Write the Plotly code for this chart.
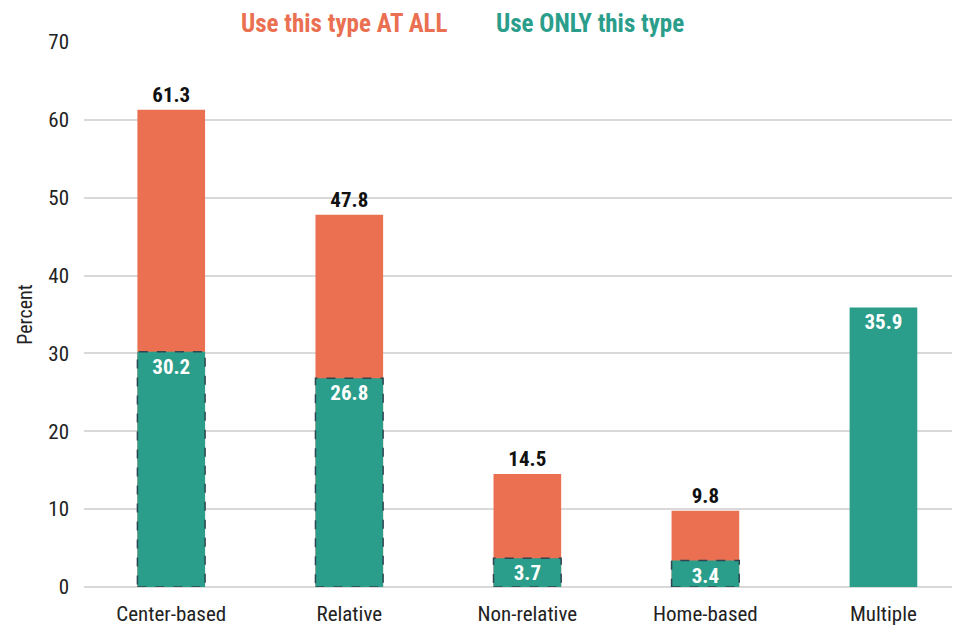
import plotly.graph_objects as go

categories = ["Center-based", "Relative", "Non-relative", "Home-based", "Multiple"]
use_at_all = [61.3, 47.8, 14.5, 9.8, None]
use_only = [30.2, 26.8, 3.7, 3.4, 35.9]
dashed_border = [True, True, True, True, False]
y_ticks = [0, 10, 20, 30, 40, 50, 60, 70]

ORANGE = "#EA7051"
TEAL = "#2A9D8B"
FONT = "Roboto Condensed, Liberation Sans Narrow, DejaVu Sans Condensed, Arial Narrow, sans-serif"
BAR_W = 0.38

fig = go.Figure()
fig.add_trace(go.Bar(
    x=categories, y=use_at_all, width=BAR_W, marker=dict(color=ORANGE, line=dict(width=0)),
    text=[f"{v:.1f}" if v is not None else "" for v in use_at_all],
    textposition="outside", cliponaxis=False,
    textfont=dict(family=FONT, size=21, color="#111111", weight="bold"),
    name="Use this type AT ALL", showlegend=False))
fig.add_trace(go.Bar(
    x=categories, y=use_only, width=BAR_W, marker=dict(color=TEAL, line=dict(width=0)),
    text=[f"{v:.1f}" for v in use_only],
    textposition="inside", insidetextanchor="end",
    textfont=dict(family=FONT, size=21, color="white", weight="bold"),
    name="Use ONLY this type", showlegend=False))

# dashed outlines on the "only" bars
for i, (v, d) in enumerate(zip(use_only, dashed_border)):
    if d:
        fig.add_shape(type="rect", xref="x", yref="y",
                      x0=i - BAR_W / 2, x1=i + BAR_W / 2, y0=0, y1=v,
                      line=dict(color="#2E4651", width=1.5, dash="dash"),
                      fillcolor="rgba(0,0,0,0)", layer="above")

fig.add_annotation(text="Use this type AT ALL", xref="paper", yref="paper", x=0.297, y=1.0,
                   yanchor="bottom", xanchor="center", showarrow=False, yshift=2,
                   font=dict(family=FONT, size=25, color=ORANGE, weight="bold"))
fig.add_annotation(text="Use ONLY this type", xref="paper", yref="paper", x=0.578, y=1.0,
                   yanchor="bottom", xanchor="center", showarrow=False, yshift=2,
                   font=dict(family=FONT, size=25, color=TEAL, weight="bold"))

fig.update_layout(
    width=952, height=619, barmode="overlay",
    margin=dict(l=76, r=0, t=34, b=40, autoexpand=False),
    uniformtext=dict(mode="show", minsize=21),
    plot_bgcolor="white", paper_bgcolor="white",
    font=dict(family=FONT, size=20, color="#222222"),
    xaxis=dict(range=[-0.49, 4.43], showgrid=False, showline=False, ticks="",
               tickfont=dict(size=21, family=FONT), ticklabelstandoff=12),
    yaxis=dict(range=[0, 70], tickvals=y_ticks, showgrid=True, gridcolor="#D9D9D9", gridwidth=1.5,
               zeroline=True, zerolinecolor="#D9D9D9", zerolinewidth=1.5,
               ticklabelstandoff=14, tickfont=dict(size=21, family=FONT),
               title=dict(text="Percent", standoff=10, font=dict(size=20, family=FONT))),
)

fig.write_html("out.html")
